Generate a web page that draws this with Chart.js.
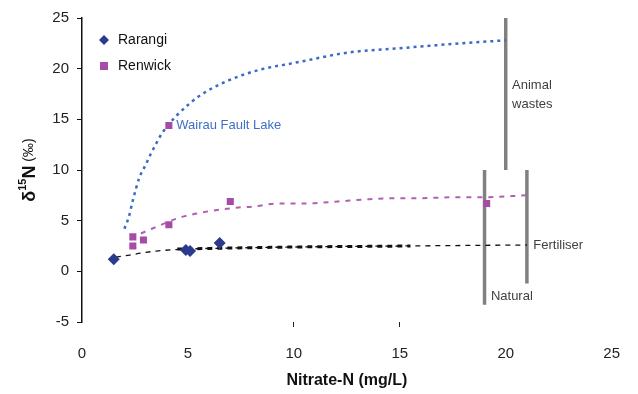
<!DOCTYPE html>
<html>
<head>
<meta charset="utf-8">
<script src="https://cdn.jsdelivr.net/npm/chart.js@4"></script>
<style>
  html, body { margin: 0; padding: 0; background: #fff; }
  #wrap { width: 638px; height: 394px; }
</style>
</head>
<body>
<div id="wrap"><canvas id="myChart" width="638" height="394"></canvas></div>
<script>
// measured points
const rarangiX = [1.5, 4.9, 5.1, 6.5];
const rarangiY = [1.2, 2.1, 2.0, 2.8];
const renwickX = [2.4, 2.4, 2.9, 4.1, 4.1, 7.0, 19.1];
const renwickY = [3.4, 2.5, 3.1, 4.6, 14.4, 6.9, 6.7];
// trend curves
const blueTrendX = [2.0, 2.2, 2.4, 2.7, 3.0, 3.25, 3.5, 3.8, 5.1, 6.0, 7.1, 8.4, 10.1, 12.6, 14.9, 17.9, 20.0];
const blueTrendY = [4.2, 5.3, 7.0, 9.2, 10.5, 11.6, 12.6, 13.7, 16.6, 17.9, 19.0, 19.9, 20.6, 21.6, 22.0, 22.5, 22.8];
const purpleTrendX = [2.3, 3.3, 4.6, 5.4, 6.2, 7.4, 8.1, 9.3, 10.6, 12.1, 13.4, 14.5, 15.7, 17.4, 18.8, 21.0];
const purpleTrendY = [3.3, 4.2, 5.3, 5.7, 6.0, 6.3, 6.4, 6.7, 6.7, 6.9, 7.1, 7.2, 7.2, 7.3, 7.3, 7.5];
const blackTrendX = [1.6, 2.25, 2.8, 3.5, 5.0, 7.0, 10.0, 15.0, 21.0];
const blackTrendY = [1.4, 1.6, 1.8, 2.0, 2.2, 2.3, 2.4, 2.5, 2.6];
const blackBoldX = [4.5, 7.0, 10.0, 15.5];
const blackBoldY = [2.2, 2.3, 2.4, 2.5];
// source range bars
const animalX = [20, 20], animalY = [25.5, 10];
const naturalX = [19, 19], naturalY = [10, -3.3];
const fertX = [21, 21], fertY = [10, -1.2];
// tick labels
const xTicks = [0, 5, 10, 15, 20, 25];
const yTicks = [-5, 0, 5, 10, 15, 20, 25];
// text notes (data coordinates)
const notes = [
    { text: 'Wairau Fault Lake', x: 4.45, y: 14.4, color: '#3f6fc6' },
    { text: 'Animal', x: 20.3, y: 18.3, color: '#404040' },
    { text: 'wastes', x: 20.3, y: 16.5, color: '#404040' },
    { text: 'Fertiliser', x: 21.3, y: 2.6, color: '#404040' },
    { text: 'Natural', x: 19.3, y: -2.5, color: '#404040' }
];

const zip = (xs, ys) => xs.map((x, i) => ({ x: x, y: ys[i] }));
const FONT = '"Liberation Sans", Arial, sans-serif';
const NAVY = '#2b3a8c';
const PURPLE = '#a64ca6';

const notePlugin = {
    id: 'notes',
    afterDatasetsDraw(chart) {
        const c = chart.ctx, xs = chart.scales.x, ys = chart.scales.y;
        c.save();
        c.font = '13px ' + FONT;
        c.textAlign = 'left';
        c.textBaseline = 'middle';
        notes.forEach(function(n) {
            c.fillStyle = n.color;
            c.fillText(n.text, xs.getPixelForValue(n.x), ys.getPixelForValue(n.y));
        });
        // legend
        const lx = chart.chartArea.left + 22, ly = chart.chartArea.top + 22;
        c.fillStyle = NAVY;
        c.beginPath();
        c.moveTo(lx, ly - 5); c.lineTo(lx + 5, ly); c.lineTo(lx, ly + 5); c.lineTo(lx - 5, ly);
        c.closePath(); c.fill();
        c.fillStyle = PURPLE;
        c.fillRect(lx - 4, ly + 22, 8, 8);
        c.fillStyle = '#111';
        c.font = '14px ' + FONT;
        c.fillText('Rarangi', lx + 14, ly);
        c.fillText('Renwick', lx + 14, ly + 26);
        // y title with superscript
        c.translate(30, (chart.chartArea.top + chart.chartArea.bottom) / 2);
        c.rotate(-Math.PI / 2);
        const parts = [
            { t: 'δ', f: 'bold 18px ', dy: 0 },
            { t: '15', f: 'bold 11px ', dy: -7 },
            { t: 'N', f: 'bold 18px ', dy: 0 },
            { t: ' (‰)', f: '14px ', dy: -1 }
        ];
        let w = 0;
        parts.forEach(function(p) { c.font = p.f + FONT; w += c.measureText(p.t).width; });
        let px = -w / 2;
        c.fillStyle = '#111';
        parts.forEach(function(p) {
            c.font = p.f + FONT;
            c.fillText(p.t, px, p.dy);
            px += c.measureText(p.t).width;
        });
        c.restore();
    }
};

const trend = (label, xs, ys, color, width, dash) => ({
    label: label, data: zip(xs, ys), showLine: true, borderColor: color,
    borderWidth: width, borderDash: dash, pointRadius: 0, cubicInterpolationMode: 'monotone',
    fill: false, order: 2
});
const bar = (label, xs, ys) => ({
    label: label, data: zip(xs, ys), showLine: true, borderColor: '#808080',
    borderWidth: 3.5, pointRadius: 0, fill: false, order: 3
});

const ctx = document.getElementById('myChart');
new Chart(ctx, {
    type: 'scatter',
    data: {
        datasets: [
            { label: 'Rarangi', data: zip(rarangiX, rarangiY), pointStyle: 'rectRot', pointRadius: 6,
              backgroundColor: NAVY, borderColor: NAVY, borderWidth: 0, order: 0 },
            { label: 'Renwick', data: zip(renwickX, renwickY), pointStyle: 'rect', pointRadius: 5,
              backgroundColor: PURPLE, borderColor: PURPLE, borderWidth: 0, order: 0 },
            trend('blueTrend', blueTrendX, blueTrendY, '#3a6bc8', 2.5, [3, 4]),
            trend('purpleTrend', purpleTrendX, purpleTrendY, '#b060b0', 2, [5, 6]),
            trend('blackTrend', blackTrendX, blackTrendY, '#111', 1.3, [5, 5]),
            trend('blackBold', blackBoldX, blackBoldY, '#111', 3, [5, 5]),
            bar('Animal wastes', animalX, animalY),
            bar('Natural', naturalX, naturalY),
            bar('Fertiliser', fertX, fertY)
        ]
    },
    options: {
        responsive: false,
        animation: false,
        layout: { padding: { top: 18, right: 18, left: 0, bottom: 0 } },
        plugins: { legend: { display: false }, tooltip: { enabled: false } },
        scales: {
            x: {
                type: 'linear', min: 0, max: 25,
                afterBuildTicks: s => { s.ticks = xTicks.map(v => ({ value: v })); },
                afterFit: s => { s.height = 72; },
                border: { display: false },
                grid: { drawOnChartArea: false, tickLength: 5,
                        color: c => (c.tick && (c.tick.value === 10 || c.tick.value === 15)) ? '#222' : 'rgba(0,0,0,0)' },
                ticks: { padding: 18, color: '#222', font: { size: 15, family: FONT } },
                title: { display: true, text: 'Nitrate-N (mg/L)', color: '#111', padding: { top: 1 },
                         font: { size: 16, weight: 'bold', family: FONT } }
            },
            y: {
                type: 'linear', min: -5, max: 25,
                afterBuildTicks: s => { s.ticks = yTicks.map(v => ({ value: v })); },
                afterFit: s => { s.width = 82; },
                border: { display: true, color: '#111', width: 1.5 },
                grid: { drawOnChartArea: false, tickLength: 5, color: '#111' },
                ticks: { padding: 8, color: '#222', font: { size: 15, family: FONT } }
            }
        }
    },
    plugins: [notePlugin]
});
</script>
</body>
</html>
